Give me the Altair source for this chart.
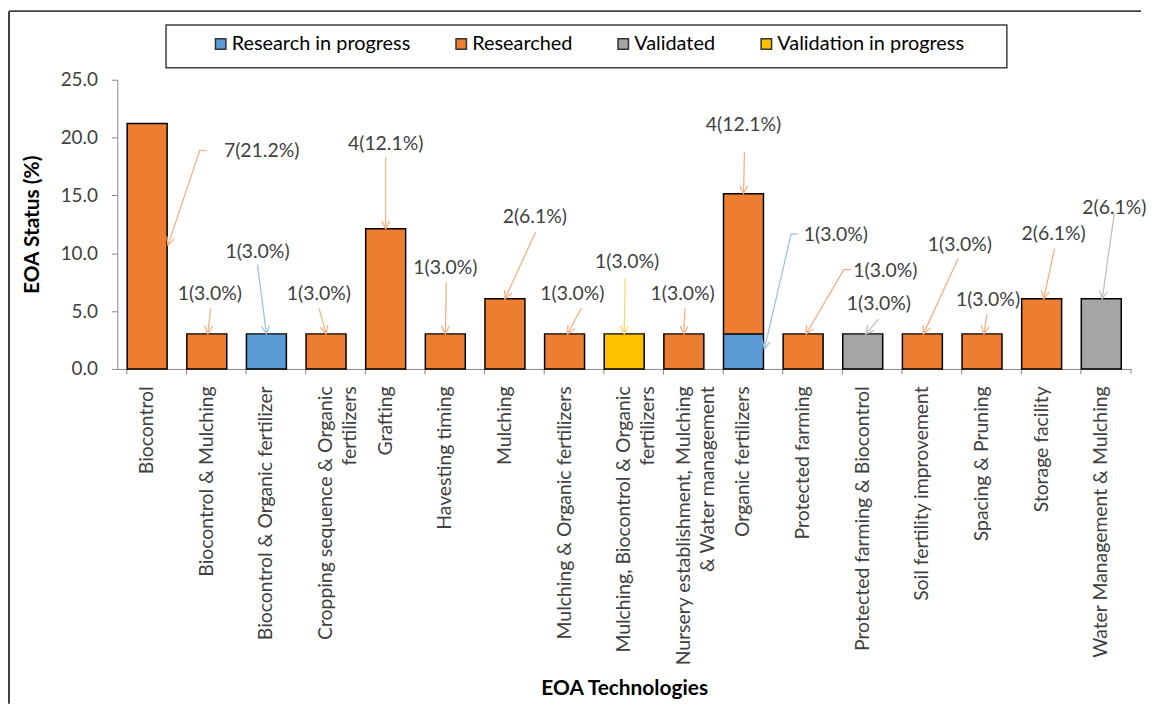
import math
import altair as alt
import pandas as pd

# ---------------- data ----------------
categories = [
    "Biocontrol", "Biocontrol & Mulching", "Biocontrol & Organic fertilizer",
    "Cropping sequence & Organic\nfertilizers", "Grafting", "Havesting timing", "Mulching",
    "Mulching & Organic fertilizers", "Mulching, Biocontrol & Organic\nfertilizers",
    "Nursery establishment, Mulching\n& Water management", "Organic fertilizers",
    "Protected farming", "Protected farming & Biocontrol", "Soil fertility improvement",
    "Spacing & Pruning", "Storage facility", "Water Management & Mulching",
]
statuses = ["Research in progress", "Researched", "Validated", "Validation in progress"]
status_colors = ["#5B9BD5", "#ED7D31", "#A5A5A5", "#FFC000"]
leader_colors = ["#9DC3E6", "#F4B183", "#BFBFBF", "#FFD966"]

bar_cat = [0, 1, 2, 3, 4, 5, 6, 7, 8, 9, 10, 10, 11, 12, 13, 14, 15, 16]
bar_status = ["Researched", "Researched", "Research in progress", "Researched", "Researched",
              "Researched", "Researched", "Researched", "Validation in progress", "Researched",
              "Research in progress", "Researched", "Researched", "Validated", "Researched",
              "Researched", "Researched", "Validated"]
bar_value = [21.21, 3.03, 3.03, 3.03, 12.12, 3.03, 6.06, 3.03, 3.03, 3.03,
             3.03, 12.12, 3.03, 3.03, 3.03, 3.03, 6.06, 6.06]

# callout labels (position in category-index / value units)
ann_text = ["7(21.2%)", "1(3.0%)", "1(3.0%)", "1(3.0%)", "4(12.1%)", "1(3.0%)", "2(6.1%)",
            "1(3.0%)", "1(3.0%)", "1(3.0%)", "4(12.1%)", "1(3.0%)", "1(3.0%)", "1(3.0%)",
            "1(3.0%)", "1(3.0%)", "2(6.1%)", "2(6.1%)"]
ann_status = ["Researched", "Researched", "Research in progress", "Researched", "Researched",
              "Researched", "Researched", "Researched", "Validation in progress", "Researched",
              "Researched", "Research in progress", "Researched", "Validated", "Researched",
              "Researched", "Researched", "Validated"]
ann_x = [1.92, 1.05, 1.85, 2.88, 4.0, 5.0, 6.5, 7.13, 8.05, 8.98, 10.0, 11.55, 12.38, 12.27,
         13.63, 14.1, 15.2, 16.22]
ann_y = [18.8, 6.44, 10.14, 6.44, 19.42, 8.68, 13.14, 6.44, 9.28, 6.44, 21.05, 11.6, 8.42,
         5.58, 10.74, 5.93, 11.68, 13.92]

# leader lines: vertices (category-index, value); last vertex is the arrow tip
leaders = [
    [(1.0, 18.9), (0.883, 18.9), (0.35, 10.7)],
    [(1.067, 5.24), (1.017, 3.03)],
    [(1.85, 9.02), (2.0, 3.03)],
    [(2.883, 5.24), (3.0, 3.03)],
    [(4.0, 18.3), (4.0, 12.12)],
    [(5.017, 7.47), (5.0, 3.03)],
    [(6.517, 11.86), (6.0, 6.06)],
    [(7.283, 5.24), (7.05, 3.03)],
    [(8.017, 7.82), (8.0, 3.03)],
    [(9.017, 5.24), (9.0, 3.03)],
    [(10.017, 18.73), (10.0, 15.15)],
    [(10.917, 11.68), (10.8, 11.68), (10.35, 1.72)],
    [(11.8, 8.59), (11.683, 8.59), (11.05, 3.03)],
    [(12.267, 4.3), (12.05, 3.03)],
    [(13.6, 9.54), (13.017, 3.03)],
    [(14.083, 4.73), (14.033, 3.03)],
    [(15.217, 10.4), (15.033, 6.06)],
    [(16.217, 13.4), (16.017, 6.06)],
]

# ---------------- layout ----------------
W, H = 1020, 291
NCAT = len(categories)
PX_X = W / NCAT
PX_Y = H / 25.0
FONT = "Lato"
TXT = "#404040"
AXC = "#868686"

bars_df = pd.DataFrame({
    "cat": [categories[i] for i in bar_cat],
    "status": bar_status,
    "value": bar_value,
    "ord": [statuses.index(s) for s in bar_status],
})

ann_df = pd.DataFrame({"text": ann_text, "x": ann_x, "value": ann_y})

line_rows, tip_rows = [], []
for lid, (pts, st) in enumerate(zip(leaders, ann_status)):
    col = leader_colors[statuses.index(st)]
    for k, (lx, ly) in enumerate(pts):
        line_rows.append({"lid": lid, "k": k, "lx": lx, "value": ly, "lcol": col})
    (x0, y0), (x1, y1) = pts[-2], pts[-1]
    dx = (x1 - x0) * PX_X
    dy = -(y1 - y0) * PX_Y
    ang = math.degrees(math.atan2(-dx, dy)) % 360
    tip_rows.append({"lx": x1, "value": y1, "lcol": col, "ang": ang})
lines_df = pd.DataFrame(line_rows)
tips_df = pd.DataFrame(tip_rows)

xq = alt.Scale(domain=[-0.5, NCAT - 0.5], nice=False, zero=False)
yscale = alt.Scale(domain=[0, 25], nice=False)
yaxis = alt.Axis(title="EOA Status (%)", values=[0, 5, 10, 15, 20, 25], format=".1f",
                 grid=False, tickSize=6, tickColor=AXC, domainColor=AXC,
                 labelFontSize=19, labelColor=TXT, labelPadding=14,
                 titleFontSize=21, titleFontWeight="bold", titleColor="black",
                 titleX=-75, titleY=H / 2)

bars = alt.Chart(bars_df).mark_bar(stroke="black", strokeWidth=1.5).encode(
    x=alt.X("cat:N", sort=categories,
            scale=alt.Scale(paddingInner=0.33, paddingOuter=0.165),
            axis=alt.Axis(title="EOA Technologies", labelAngle=270, labelAlign="right",
                          labelBaseline="middle", labelExpr="split(datum.label, '\\n')",
                          labelLimit=500, labelFontSize=19.5, labelLineHeight=24,
                          labelColor=TXT, labelPadding=12, bandPosition=0, tickSize=5,
                          tickColor=AXC, domainColor=AXC,
                          titleFontSize=21, titleFontWeight="bold", titleColor="black",
                          titleY=322, titleBaseline="middle")),
    y=alt.Y("value:Q", stack="zero", scale=yscale, axis=yaxis),
    color=alt.Color("status:N", scale=alt.Scale(domain=statuses, range=status_colors),
                    legend=alt.Legend(title=None, orient="none", direction="horizontal",
                                      legendX=94, legendY=-46, symbolType="square",
                                      symbolSize=110, symbolStrokeColor="#333333",
                                      symbolStrokeWidth=1.5, labelFontSize=20,
                                      labelLimit=400, labelColor="black", labelOffset=1,
                                      columnPadding=41, padding=0)),
    order=alt.Order("ord:Q"),
)

lines = alt.Chart(lines_df).mark_line(strokeWidth=1.3).encode(
    x=alt.X("lx:Q", scale=xq, axis=None),
    y=alt.Y("value:Q", scale=yscale),
    detail="lid:N",
    order="k:Q",
    stroke=alt.Stroke("lcol:N", scale=None),
)

tips = alt.Chart(tips_df).mark_point(
    shape="M-0.8,-1.6L0,0L0.8,-1.6", size=100, filled=False, strokeWidth=1.3, opacity=1
).encode(
    x=alt.X("lx:Q", scale=xq, axis=None),
    y=alt.Y("value:Q", scale=yscale),
    stroke=alt.Stroke("lcol:N", scale=None),
    angle=alt.Angle("ang:Q", scale=None),
)

labels = alt.Chart(ann_df).mark_text(fontSize=19.5, color=TXT, baseline="middle").encode(
    x=alt.X("x:Q", scale=xq, axis=None),
    y=alt.Y("value:Q", scale=yscale),
    text="text:N",
)

one = pd.DataFrame({"d": [0]})
legend_box = alt.Chart(one).mark_rect(fillOpacity=0, stroke="#404040", strokeWidth=1.5).encode(
    x=alt.value(49), x2=alt.value(895), y=alt.value(-55), y2=alt.value(-12))
border_left = alt.Chart(one).mark_rule(color="#404040", strokeWidth=2).encode(
    x=alt.value(-109), y=alt.value(-69), y2=alt.value(628))
border_top = alt.Chart(one).mark_rule(color="#404040", strokeWidth=2).encode(
    x=alt.value(-109), x2=alt.value(1030), y=alt.value(-69))
end_tick = alt.Chart(one).mark_rule(color=AXC, strokeWidth=1).encode(
    x=alt.value(W), y=alt.value(H), y2=alt.value(H + 5))

chart = alt.layer(bars, lines, tips, labels, legend_box, border_left, border_top,
                  end_tick).resolve_scale(
    x="independent"
).properties(width=W, height=H, padding=0).configure(font=FONT).configure_view(stroke=None)

chart.save("out.html", embed_options={"renderer": "svg", "actions": False})
